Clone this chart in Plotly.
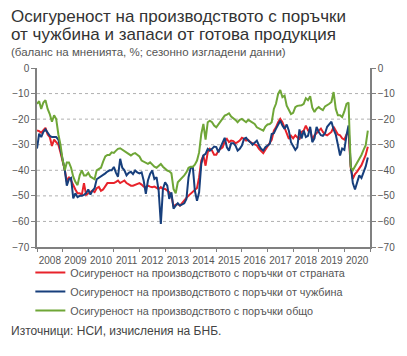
import pandas as pd
import plotly.graph_objects as go

# Monthly data, Jan 2008 - Dec 2020 (balance of opinions, %, seasonally adjusted)
months = pd.date_range("2008-01-01", periods=156, freq="MS")

domestic = [
    -24.4, -24.7, -25.3, -24.5, -23.4, -26, -27, -30.5, -28, -29, -30, -33,
    -36, -40, -44.5, -42.6, -44, -46, -47.5, -49, -49, -49.6, -45, -49.6,
    -49, -48.5, -48, -48.5, -47, -46.5, -48, -47.5, -46, -45, -45, -45,
    -45, -44.5, -44, -45, -44.5, -44, -45, -45.5, -46, -46, -45.6, -45.3,
    -45, -45.6, -46.4, -46.6, -46, -46.4, -46.6, -46.4, -46.9, -47.3, -46.6, -47.3,
    -47.3, -48, -48.6, -49.9, -54.2, -53.4, -53.2, -53.8, -52.9, -52.1, -50.8, -49.9,
    -49.2, -48.6, -47.9, -46.9, -42.7, -36.2, -34.2, -38.2, -32.9, -31.6, -32.3, -33.9,
    -33.9, -32.3, -31.6, -31, -28.6, -27.7, -29, -28.4, -28.6, -29.4, -29, -28.4,
    -27.3, -27.7, -28.4, -28.1, -29, -29.4, -30, -30.3, -31.6, -32.6, -33.3, -32,
    -30.7, -29.7, -28.1, -24.5, -23.2, -21.2, -19.9, -21.2, -23.2, -25.1, -27.7, -26.5,
    -27.5, -26.3, -27, -28, -25, -24.5, -22.5, -24.4, -24, -28, -26.3, -25.5,
    -24.5, -23.7, -25, -26, -26.3, -25.5, -25, -23, -24.5, -26, -26.3, -27.5,
    -28, -26, -25, -39, -43.3, -41.5, -40.5, -39.4, -38, -36, -34, -30.8,
]

foreign = [
    -31.5, -25.7, -27, -25, -24, -25.5, -26.5, -27, -27, -27, -28, -32,
    -36.5, -40, -46, -43.5, -43, -51, -49, -50.5, -50, -50, -49.6, -49,
    -47.5, -49.5, -48, -47, -43.5, -43, -42.5, -42, -41.2, -40.5, -40, -40,
    -38.7, -41, -42.5, -35.5, -39, -40, -42, -41, -40.6, -41.5, -40.1, -40.8,
    -41.2, -40.8, -44, -49.2, -44, -41.4, -40.1, -43.4, -42.7, -48, -61, -47.3,
    -44.7, -46, -51.2, -48.6, -55, -53.8, -52.9, -53.8, -53.4, -52.9, -51.2, -42.7,
    -39, -39, -47.9, -51.9, -48.6, -37.5, -34.2, -33.6, -31.6, -32.3, -31.6, -30.7,
    -30.9, -33, -31, -29, -27.3, -31, -32.3, -29.4, -29.4, -30.3, -32.3, -31.6,
    -30.3, -27.7, -27.3, -28.4, -29, -30, -29, -28.4, -30.3, -31.6, -32.3, -31,
    -30.3, -29.7, -25.8, -25.5, -23.8, -21.9, -20.6, -22.5, -23.8, -22.1, -24.5, -29,
    -30.5, -32, -31, -24, -27.6, -24.5, -27, -26.5, -23, -29, -27.5, -23,
    -25, -26.3, -26.5, -25.5, -23, -22, -21, -24, -26, -30, -34.2, -31.5,
    -32, -26.3, -22.5, -38, -45, -47.5, -45, -42, -43, -40.5, -38.5, -35,
]

total = [
    -14, -13, -16, -13.5, -12.6, -16, -18, -21, -18.5, -20, -26, -30,
    -36, -40, -37, -37, -39, -42.5, -44.5, -45.8, -42, -40, -42, -42,
    -41, -42.5, -43, -43.5, -40, -39.5, -39, -36.6, -34.6, -34, -34, -33,
    -33.2, -32.3, -31.6, -31.4, -32, -32.7, -33.3, -33.9, -34.2, -33.6, -33.3, -33.9,
    -34.6, -36.2, -36.6, -37.2, -37.5, -36.9, -37.8, -38.6, -39, -38.2, -37.5, -38.6,
    -39.5, -40.1, -40.4, -41.2, -47.3, -49, -44.7, -43.8, -43, -42, -40.8, -39,
    -38.6, -38.6, -37.8, -36.2, -33, -25.8, -21.9, -28, -21.2, -20.6, -21.2, -22.5,
    -23.2, -22.1, -21.2, -19.9, -18.6, -18.2, -17.7, -19, -19.6, -20.3, -21.2, -20.3,
    -19.9, -20.6, -21.2, -20.3, -20.8, -21.2, -21.9, -23.2, -23.6, -24.1, -24.5, -22.9,
    -22.1, -21.9, -21.2, -16, -14, -10.1, -8.6, -11.4, -10.8, -14.7, -16.7, -18,
    -17.5, -15.3, -14.8, -14.6, -14.6, -14, -11.8, -12.6, -11, -15.5, -17.2, -15.9,
    -15.3, -16, -16.5, -15, -14.6, -14, -13.3, -9.4, -16, -18.5, -18.5, -19.2,
    -17, -14, -13.5, -38.7, -40, -38.5, -37.5, -36, -34, -32, -30.2, -24.5,
]

series_names = [
    "Осигуреност на производството с поръчки от страната",
    "Осигуреност на производството с поръчки от чужбина",
    "Осигуреност на производството с поръчки общо",
]
series_colors = ["#e8232b", "#173f7c", "#6fa637"]

y_ticks = [0, -10, -20, -30, -40, -50, -60, -70]
grid_values = [-10, -20, -30, -40, -50, -60]

FONT = "Liberation Sans"
AXIS_COLOR = "#808080"
TEXT_COLOR = "#555555"

fig = go.Figure()
for vals, name, col in zip([domestic, foreign, total], series_names, series_colors):
    fig.add_trace(go.Scatter(x=months, y=vals, mode="lines", name=name,
                             line=dict(color=col, width=2)))

# carrier for the right-hand axis
fig.add_trace(go.Scatter(x=months, y=total, yaxis="y2", mode="lines",
                         line=dict(color="rgba(0,0,0,0)", width=0),
                         showlegend=False, hoverinfo="skip"))

for g in grid_values:
    fig.add_shape(type="line", xref="paper", x0=0, x1=1, yref="y", y0=g, y1=g,
                  line=dict(color="#b0b0b0", width=1, dash="dot"), layer="below")

yax = dict(range=[-70, 0], tickmode="array", tickvals=y_ticks, ticks="outside",
           ticklen=4, tickcolor=AXIS_COLOR, showline=True, linecolor=AXIS_COLOR,
           linewidth=1.5, showgrid=False, zeroline=False,
           tickfont=dict(family=FONT, size=10, color=TEXT_COLOR))

fig.update_layout(
    width=407, height=356,
    margin=dict(l=37, r=22, t=68, b=109),
    paper_bgcolor="white", plot_bgcolor="white",
    font=dict(family=FONT, color=TEXT_COLOR),
    xaxis=dict(type="date", range=["2008-01-01", "2021-01-01"],
               tick0="2008-01-01", dtick="M12", tickformat="%Y",
               ticklabelmode="period", ticks="outside", ticklen=3,
               tickcolor=AXIS_COLOR, showline=True, linecolor=AXIS_COLOR,
               linewidth=1.5, showgrid=False, zeroline=False,
               tickfont=dict(family=FONT, size=10, color=TEXT_COLOR)),
    yaxis=yax,
    yaxis2=dict(yax, overlaying="y", side="right"),
    legend=dict(x=-0.02, y=-0.062, xanchor="left", yanchor="top",
                font=dict(family=FONT, size=10.8, color=TEXT_COLOR),
                bgcolor="rgba(0,0,0,0)", tracegroupgap=0),
    showlegend=True,
)

ann = [
    ("Осигуреност на производството с поръчки", 17, 17, "#333333"),
    ("от чужбина и запаси от готова продукция", 35, 17, "#333333"),
    ("(баланс на мненията, %; сезонно изгладени данни)", 52, 11.5, "#555555"),
    ("Източници: НСИ, изчисления на БНБ.", 331, 12, "#444444"),
]
for text, ypx, size, col in ann:
    fig.add_annotation(text=text, xref="paper", yref="paper",
                       x=(8 - 37) / 348, y=(247 - ypx) / 179,
                       xanchor="left", yanchor="middle", showarrow=False,
                       font=dict(family=FONT, size=size, color=col))

fig.write_html("out.html", config={"displayModeBar": False},
               post_script="document.body.style.margin='0';")
